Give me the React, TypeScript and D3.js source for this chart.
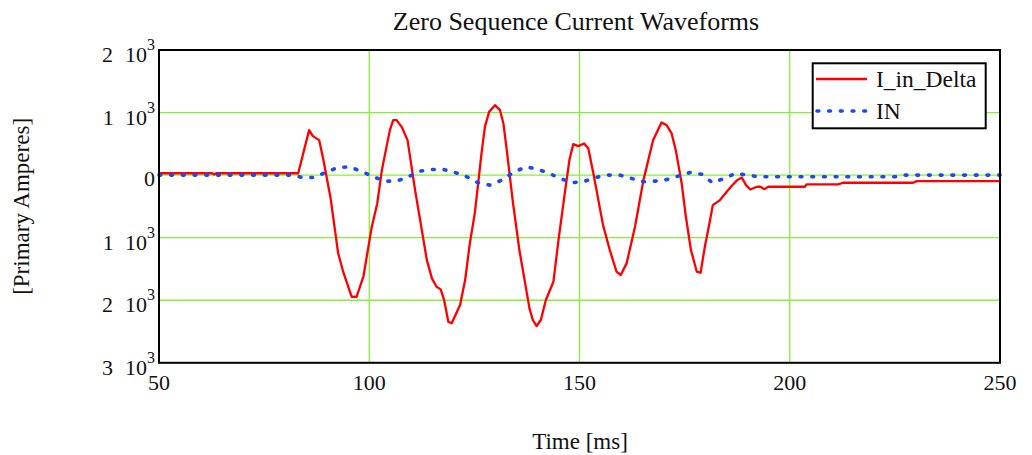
import React from "react";
import { scaleLinear, line } from "d3";

// time [ms] / current [A]
const deltaTime = [50, 62.6, 63.1, 63.6, 83.1, 85.7, 86.6, 88.1, 89.1, 90.8, 92.6, 93.8, 95.8, 97.0, 98.6, 100.6, 101.9, 103.0, 104.9, 105.7, 106.5, 107.7, 109.1, 110.9, 113.7, 114.9, 116.0, 117.0, 117.8, 118.8, 119.6, 121.6, 122.8, 123.9, 125.1, 126.7, 127.5, 128.5, 129.9, 131.1, 131.9, 132.7, 134.1, 135.7, 136.6, 138.1, 138.9, 139.8, 140.8, 142.0, 143.8, 145.0, 146.6, 147.6, 148.5, 149.7, 151.1, 152.1, 153.3, 155.6, 157.2, 158.8, 159.8, 161.2, 163.2, 165.2, 167.5, 169.5, 170.7, 171.9, 172.9, 174.3, 175.3, 176.5, 177.9, 178.8, 179.8, 180.9, 181.7, 183.4, 186.0, 187.5, 188.6, 189.6, 190.6, 192.2, 193.0, 194.0, 194.9, 203.6, 204.0, 211.5, 212.7, 229.3, 230.2, 250];
const deltaCurrent = [30, 30, 10, 30, 30, 719, 623, 559, 240, -367, -1246, -1544, -1944, -1944, -1624, -826, -453, 80, 719, 879, 879, 772, 559, -240, -1358, -1650, -1784, -1826, -1997, -2343, -2369, -2077, -1677, -1100, -607, 347, 772, 1011, 1118, 1038, 826, 399, -399, -1198, -1544, -2130, -2316, -2412, -2316, -1997, -1704, -1038, -240, 240, 495, 463, 506, 426, 27, -799, -1198, -1544, -1597, -1411, -826, -80, 559, 841, 799, 666, 399, -133, -666, -1198, -1544, -1560, -1145, -772, -479, -399, -186, -80, -37, -160, -229, -186, -186, -224, -186, -186, -149, -149, -122, -122, -96, -96];

const inTime = [50, 82, 84, 87, 89.5, 92.5, 95.3, 98, 101, 103.7, 106.5, 109.3, 112.1, 114.9, 117.6, 120.4, 123.2, 125.9, 128.7, 131.5, 134.3, 137.2, 140, 142.8, 145.8, 148.4, 151.3, 153.9, 156.8, 159.6, 162.4, 165.2, 168, 170.9, 173.7, 176.4, 179.2, 181.6, 184.4, 187.1, 189.9, 192.9, 225, 226.2, 250];
const inCurrent = [0, 0, -37, -37, 43, 120, 133, 64, -27, -96, -96, -27, 64, 91, 91, 43, -27, -122, -160, -80, 43, 133, 96, 27, -64, -122, -96, -37, 0, 0, -53, -106, -96, -69, -11, 43, 11, -122, -53, 27, 0, -27, -27, 0, 0];

const xTicks = [50, 100, 150, 200, 250];
const yTicks = [-3000, -2000, -1000, 0, 1000, 2000];
// the original prints the mantissas without a minus sign
const yMantissa = ["3", "2", "1", "0", "1", "2"];
const seriesNames = ["I_in_Delta", "IN"];

const W = 1032;
const H = 455;
const left = 159;
const right = 1000;
const top = 50;
const bottom = 362.8;

const FONT = "'Liberation Serif', 'Times New Roman', serif";
const RED = "#ff0000";
const BLUE = "#1f48f5";
const GRID = "#86ef3c";

export default function App() {
  const x = scaleLinear().domain([50, 250]).range([left, right]);
  const y = scaleLinear().domain([-3000, 2000]).range([bottom, top]);

  const path = line<[number, number]>()
    .x((d) => x(d[0]))
    .y((d) => y(d[1]));

  const deltaPts = deltaTime.map((t, i) => [t, deltaCurrent[i]] as [number, number]);
  const inPts = inTime.map((t, i) => [t, inCurrent[i]] as [number, number]);

  return (
    <svg
      width={W}
      height={H}
      style={{ position: "absolute", left: 0, top: 0, background: "#fff" }}
      fontFamily={FONT}
    >
      <rect width={W} height={H} fill="#fff" />
      <text x={576} y={30} fontSize={26} textAnchor="middle" fill="#111">
        Zero Sequence Current Waveforms
      </text>

      {/* grid */}
      {xTicks.slice(1, -1).map((t) => (
        <line key={"gx" + t} x1={x(t)} x2={x(t)} y1={top} y2={bottom} stroke={GRID} strokeWidth={1.3} />
      ))}
      {yTicks.slice(1, -1).map((v) => (
        <line key={"gy" + v} x1={left} x2={right} y1={y(v)} y2={y(v)} stroke={GRID} strokeWidth={1.3} />
      ))}

      <path d={path(deltaPts) || ""} fill="none" stroke={RED} strokeWidth={2.3} strokeLinejoin="round" />
      <path
        d={path(inPts) || ""}
        fill="none"
        stroke={BLUE}
        strokeWidth={3.6}
        strokeLinecap="round"
        strokeDasharray="1.8 9.9"
      />

      <rect x={left} y={top} width={right - left} height={bottom - top} fill="none" stroke="#000" strokeWidth={2} />

      {/* x tick labels */}
      {xTicks.map((t) => (
        <text key={"xt" + t} x={x(t)} y={390} fontSize={22} textAnchor="middle" fill="#111">
          {t}
        </text>
      ))}

      {/* y tick labels */}
      {yTicks.map((v, i) =>
        v === 0 ? (
          <text key={"yt" + v} x={155} y={y(v) + 11} fontSize={22} textAnchor="end" fill="#111">
            0
          </text>
        ) : (
          <text key={"yt" + v} x={155} y={y(v) + 12} fontSize={22} textAnchor="end" fill="#111">
            {yMantissa[i]}
            <tspan dx={12}>10</tspan>
            <tspan dy={-12} fontSize={16}>3</tspan>
          </text>
        )
      )}

      <text x={580} y={449} fontSize={23} textAnchor="middle" fill="#111">
        Time [ms]
      </text>
      <text
        transform={`translate(29, ${(top + bottom) / 2}) rotate(-90)`}
        fontSize={23}
        textAnchor="middle"
        fill="#111"
      >
        [Primary Amperes]
      </text>

      {/* legend */}
      <rect x={812.7} y={63.3} width={173} height={65} fill="#fff" stroke="#000" strokeWidth={2} />
      <line x1={816} x2={867} y1={79} y2={79} stroke={RED} strokeWidth={2.3} />
      <line
        x1={817}
        x2={867}
        y1={111}
        y2={111}
        stroke={BLUE}
        strokeWidth={3.6}
        strokeLinecap="round"
        strokeDasharray="1.8 9.9"
      />
      <text x={876} y={87} fontSize={23.5} fill="#111">
        {seriesNames[0]}
      </text>
      <text x={876} y={119} fontSize={23.5} fill="#111">
        {seriesNames[1]}
      </text>
    </svg>
  );
}
